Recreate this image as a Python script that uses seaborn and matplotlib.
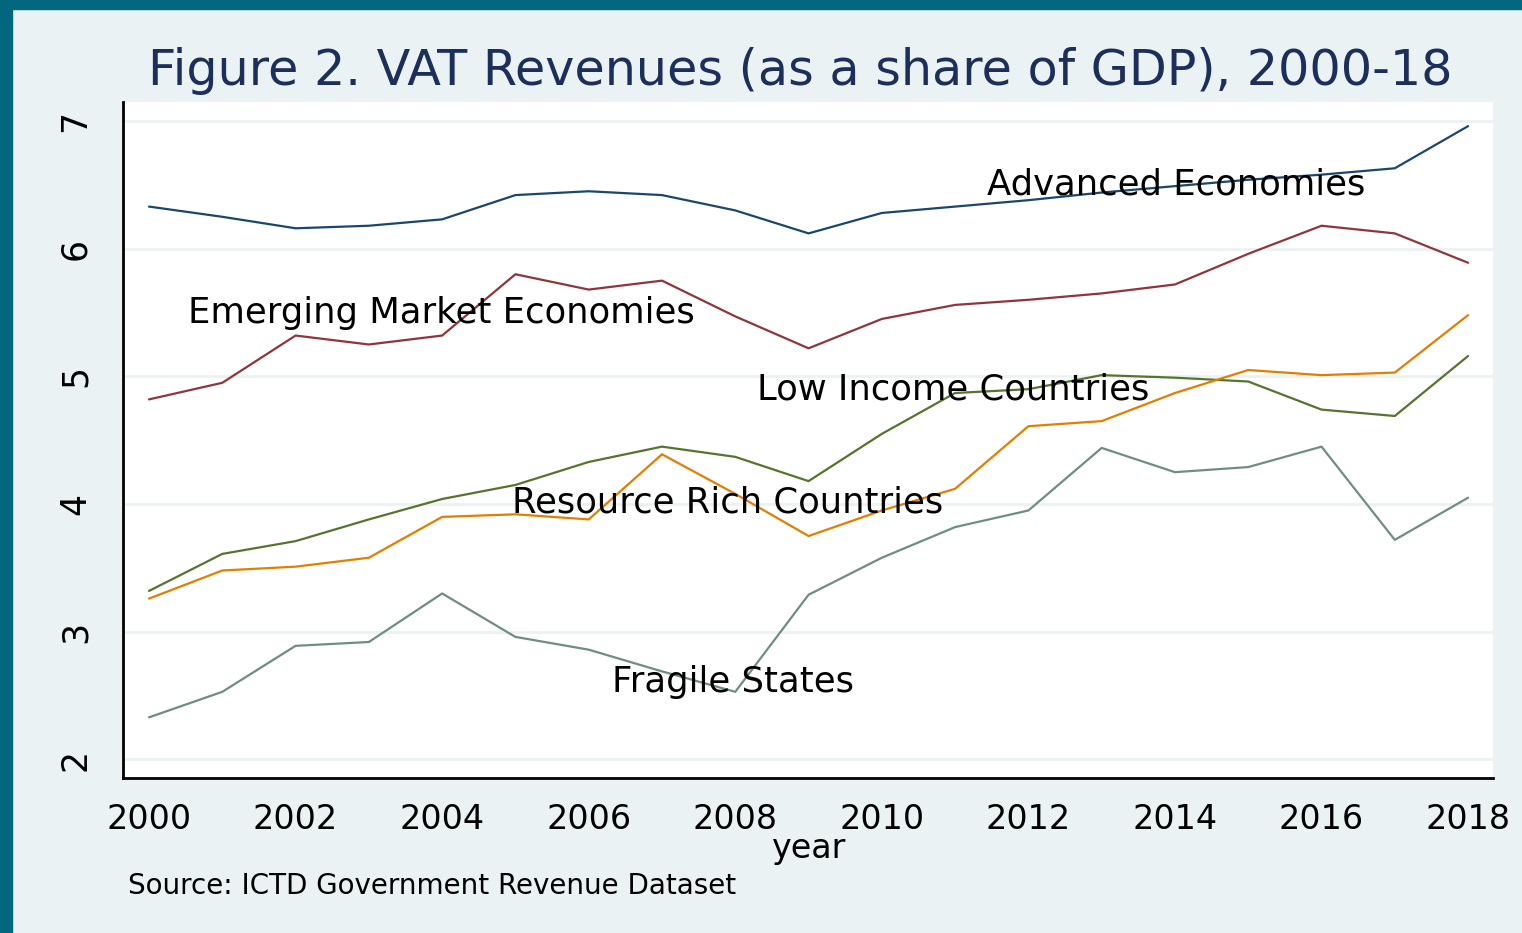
import matplotlib
matplotlib.use("Agg")
import matplotlib.pyplot as plt
import matplotlib.patches as mpatches
import pandas as pd
import seaborn as sns

years = list(range(2000, 2019))

advanced = [6.33, 6.25, 6.16, 6.18, 6.23, 6.42, 6.45, 6.42, 6.30, 6.12,
            6.28, 6.33, 6.38, 6.44, 6.49, 6.54, 6.58, 6.63, 6.96]
emerging = [4.82, 4.95, 5.32, 5.25, 5.32, 5.80, 5.68, 5.75, 5.47, 5.22,
            5.45, 5.56, 5.60, 5.65, 5.72, 5.96, 6.18, 6.12, 5.89]
low_income = [3.32, 3.61, 3.71, 3.88, 4.04, 4.15, 4.33, 4.45, 4.37, 4.18,
              4.55, 4.87, 4.90, 5.01, 4.99, 4.96, 4.74, 4.69, 5.16]
resource_rich = [3.26, 3.48, 3.51, 3.58, 3.90, 3.92, 3.88, 4.39, 4.08, 3.75,
                 3.95, 4.12, 4.61, 4.65, 4.87, 5.05, 5.01, 5.03, 5.48]
fragile = [2.33, 2.53, 2.89, 2.92, 3.30, 2.96, 2.86, 2.69, 2.53, 3.29,
           3.58, 3.82, 3.95, 4.44, 4.25, 4.29, 4.45, 3.72, 4.05]

groups = ["Advanced Economies", "Emerging Market Economies", "Low Income Countries",
          "Resource Rich Countries", "Fragile States"]
colors = ["#1a476f", "#90353b", "#55752f", "#e37e00", "#6e8e84"]

# where each series name sits (year, value at left/middle of text)
label_pos = {
    "Advanced Economies": (2011.43, 6.50),
    "Emerging Market Economies": (2000.53, 5.50),
    "Low Income Countries": (2008.29, 4.90),
    "Resource Rich Countries": (2004.95, 4.01),
    "Fragile States": (2006.32, 2.61),
}

series = [advanced, emerging, low_income, resource_rich, fragile]
df = pd.concat(
    [pd.DataFrame({"year": years, "vat": vals, "group": g}) for g, vals in zip(groups, series)],
    ignore_index=True,
)

bg = "#eaf2f3"
sns.set_style("white")
plt.rcParams["font.family"] = ["DejaVu Sans"]

fig = plt.figure(figsize=(15.22, 9.33), dpi=100, facecolor=bg)
ax = fig.add_axes([123 / 1522, 1 - 778 / 933, (1493 - 123) / 1522, (778 - 102) / 933])
ax.set_facecolor("white")

sns.lineplot(data=df, x="year", y="vat", hue="group", hue_order=groups,
             palette=dict(zip(groups, colors)), linewidth=1.6, legend=False, ax=ax)

ax.set_xlim(1999.645, 2018.34)
ax.set_ylim(1.855, 7.149)
ax.set_xticks(list(range(2000, 2019, 2)))
ax.set_yticks([2, 3, 4, 5, 6, 7])
ax.grid(axis="y", color=bg, linewidth=2)
ax.grid(axis="x", visible=False)

for side in ["top", "right"]:
    ax.spines[side].set_visible(False)
for side in ["left", "bottom"]:
    ax.spines[side].set_color("black")
    ax.spines[side].set_linewidth(2)

ax.tick_params(axis="y", direction="out", length=12, width=1.6, color="black",
               labelcolor="black", labelsize=25, labelrotation=90, pad=10)
ax.tick_params(axis="x", direction="out", length=9, width=1.6, color="black",
               labelcolor="black", labelsize=24, pad=9)
for lab in ax.get_yticklabels():
    lab.set_verticalalignment("center")

ax.set_xlabel("year", fontsize=24, color="black", labelpad=-3)
ax.set_ylabel("")

for g in groups:
    x, y = label_pos[g]
    ax.text(x, y, g, fontsize=25.5, color="black", ha="left", va="center")

fig.text(800 / 1522, 1 - 71 / 933, "Figure 2. VAT Revenues (as a share of GDP), 2000-18",
         fontsize=35.5, color="#1c2e5c", ha="center", va="center")
fig.text(128 / 1522, 1 - 886 / 933, "Source: ICTD Government Revenue Dataset",
         fontsize=20, color="black", ha="left", va="center")

# teal frame at left and top
fig.patches.append(mpatches.Rectangle((0, 0), 12 / 1522, 1, transform=fig.transFigure,
                                      color="#02667f", zorder=10))
fig.patches.append(mpatches.Rectangle((0, 1 - 9 / 933), 1, 9 / 933, transform=fig.transFigure,
                                      color="#02667f", zorder=10))

fig.savefig("out.png", dpi=100, facecolor=bg)
plt.close(fig)
